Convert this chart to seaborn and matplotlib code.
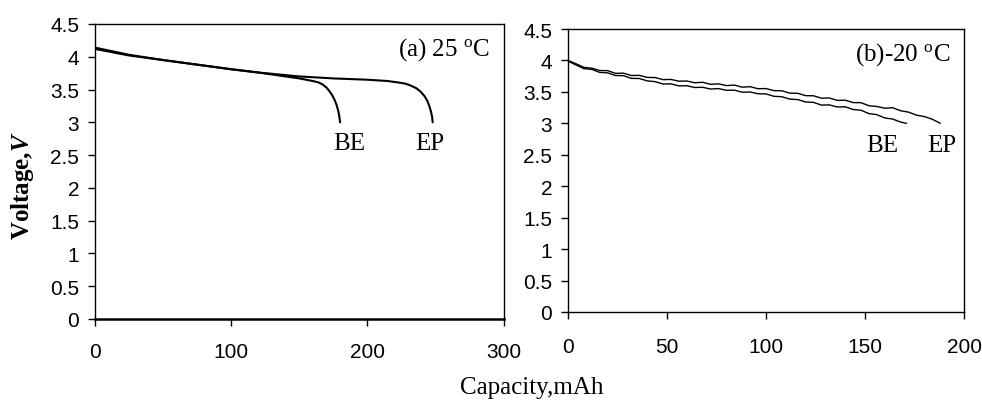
import matplotlib
matplotlib.use("Agg")
import matplotlib.pyplot as plt
import seaborn as sns
import pandas as pd

# ---------------- data ----------------
# (a) 25 C
be_a_cap = [0, 25, 50, 75, 100, 120, 140, 150, 155, 160, 164, 167, 170, 172, 174, 176,
            177.5, 178.7, 179.5, 180]
be_a_v = [4.14, 4.03, 3.95, 3.88, 3.81, 3.76, 3.70, 3.67, 3.65, 3.63, 3.61, 3.58, 3.53,
          3.48, 3.42, 3.34, 3.26, 3.17, 3.08, 3.00]
ep_a_cap = [0, 25, 50, 75, 100, 120, 150, 175, 200, 215, 222, 228, 232, 236, 239, 242,
            244, 245.5, 246.8, 247.6, 248]
ep_a_v = [4.12, 4.02, 3.95, 3.88, 3.81, 3.76, 3.70, 3.67, 3.65, 3.63, 3.61, 3.59, 3.56,
          3.52, 3.47, 3.40, 3.33, 3.25, 3.16, 3.08, 3.00]

# (b) -20 C
ep_b_cap = [0, 4, 8, 12, 16, 20, 24, 28, 32, 36, 40, 44, 48, 52, 56, 60, 64, 68, 72, 76,
            80, 84, 88, 92, 96, 100, 104, 108, 112, 116, 120, 124, 128, 132, 136, 140,
            144, 148, 152, 156, 160, 164, 168, 172, 176, 180, 184, 188]
ep_b_v = [4.00, 3.948, 3.89, 3.878, 3.84, 3.838, 3.795, 3.798, 3.76, 3.763, 3.73, 3.728,
          3.695, 3.698, 3.67, 3.673, 3.645, 3.653, 3.62, 3.628, 3.60, 3.608, 3.575, 3.583,
          3.55, 3.553, 3.52, 3.518, 3.48, 3.478, 3.44, 3.438, 3.40, 3.403, 3.365, 3.368,
          3.33, 3.328, 3.28, 3.268, 3.24, 3.248, 3.20, 3.178, 3.13, 3.108, 3.065, 3.00]
be_b_cap = [0, 4, 8, 12, 16, 20, 24, 28, 32, 36, 40, 44, 48, 52, 56, 60, 64, 68, 72, 76,
            80, 84, 88, 92, 96, 100, 104, 108, 112, 116, 120, 124, 128, 132, 136, 140,
            144, 148, 152, 156, 160, 164, 168, 171]
be_b_v = [3.99, 3.928, 3.87, 3.858, 3.81, 3.803, 3.76, 3.758, 3.715, 3.713, 3.675, 3.663,
          3.625, 3.628, 3.595, 3.598, 3.57, 3.573, 3.545, 3.553, 3.525, 3.528, 3.495, 3.498,
          3.47, 3.468, 3.43, 3.423, 3.385, 3.378, 3.34, 3.333, 3.29, 3.293, 3.26, 3.263,
          3.22, 3.208, 3.155, 3.138, 3.085, 3.068, 3.02, 3.00]

y_ticks = [0, 0.5, 1, 1.5, 2, 2.5, 3, 3.5, 4, 4.5]
y_ticklabels = ["0", "0.5", "1", "1.5", "2", "2.5", "3", "3.5", "4", "4.5"]
xa_ticks = [0, 100, 200, 300]
xb_ticks = [0, 50, 100, 150, 200]

# ---------------- style ----------------
sns.set_theme(style="ticks")
plt.rcParams["font.family"] = ["Liberation Sans", "DejaVu Sans"]
plt.rcParams["mathtext.fontset"] = "custom"
plt.rcParams["mathtext.rm"] = "Liberation Serif"
plt.rcParams["mathtext.it"] = "Liberation Serif:italic:bold"
plt.rcParams["mathtext.bf"] = "Liberation Serif:bold"

SERIF = "Liberation Serif"

fig = plt.figure(figsize=(9.82, 4.02), dpi=100)
W, H = 982, 402


def add_ax(x0, x1, ytop, ybot):
    return fig.add_axes([x0 / W, (H - ybot) / H, (x1 - x0) / W, (ybot - ytop) / H])


ax1 = add_ax(95, 503.5, 25, 320)
ax2 = add_ax(568, 964, 30, 313)

df_a = pd.concat([
    pd.DataFrame({"cap": be_a_cap, "v": be_a_v, "cell": "BE"}),
    pd.DataFrame({"cap": ep_a_cap, "v": ep_a_v, "cell": "EP"}),
])
df_b = pd.concat([
    pd.DataFrame({"cap": be_b_cap, "v": be_b_v, "cell": "BE"}),
    pd.DataFrame({"cap": ep_b_cap, "v": ep_b_v, "cell": "EP"}),
])

pal = {"BE": "black", "EP": "black"}
sns.lineplot(data=df_a, x="cap", y="v", hue="cell", palette=pal, estimator=None,
             linewidth=1.5, legend=False, ax=ax1)
sns.lineplot(data=df_b, x="cap", y="v", hue="cell", palette=pal, estimator=None,
             linewidth=1.0, legend=False, ax=ax2)

for ax, xt, xmax, xpad in [(ax1, xa_ticks, 300, 11.5), (ax2, xb_ticks, 200, 13)]:
    ax.set_xlim(0, xmax)
    ax.set_ylim(0, 4.5)
    ax.set_xticks(xt)
    ax.set_xticklabels([str(t) for t in xt])
    ax.set_yticks(y_ticks)
    ax.set_yticklabels(y_ticklabels)
    ax.set_xlabel("")
    ax.set_ylabel("")
    for s in ax.spines.values():
        s.set_visible(True)
        s.set_color("black")
        s.set_linewidth(1.0)
    ax.tick_params(axis="both", direction="out", length=5, width=1.0, colors="black",
                   labelsize=15, labelcolor="black")
    ax.tick_params(axis="x", pad=xpad)
    ax.tick_params(axis="y", pad=6.5)
    ax.set_facecolor("white")

ax1.spines["bottom"].set_linewidth(1.8)

tkw = dict(family=SERIF, fontsize=18, color="black")
ax1.text(290, 4.03, r"(a) 25 $^{\mathrm{o}}$C", ha="right", va="baseline", **tkw)
ax1.text(186.5, 2.59, "BE", ha="center", va="baseline", **tkw)
ax1.text(246, 2.59, "EP", ha="center", va="baseline", **tkw)
ax2.text(193, 4.02, r"(b)-20 $^{\mathrm{o}}$C", ha="right", va="baseline", **tkw)
ax2.text(158.6, 2.56, "BE", ha="center", va="baseline", **tkw)
ax2.text(189, 2.56, "EP", ha="center", va="baseline", **tkw)

fig.text(22 / W, (H - 186) / H, r"Voltage,$\mathit{V}$", rotation=90, ha="center",
         va="center", family=SERIF, fontsize=18, fontweight="bold", color="black")
fig.text(532 / W, (H - 388) / H, "Capacity,mAh", ha="center", va="center",
         family=SERIF, fontsize=18, color="black")

fig.savefig("out.png", dpi=100, facecolor="white")
